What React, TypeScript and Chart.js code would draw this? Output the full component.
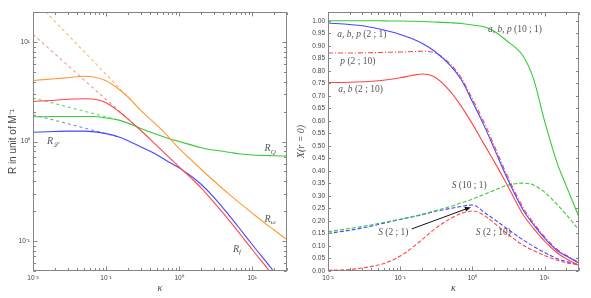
import React, { useEffect, useRef } from "react";
import { Chart, registerables } from "chart.js";
Chart.register(...registerables);

// ---------- shared κ grid ----------
const KAPPA = [0.01, 0.02, 0.03, 0.05, 0.07, 0.1, 0.15, 0.2, 0.3, 0.5, 0.7, 1, 1.5, 2, 3, 5, 7, 10, 15, 20, 30];

// ---------- left panel: R in unit of M^-1 ----------
const R_OMEGA = [4.1, 4.27, 4.37, 4.53, 4.42, 4.07, 3.35, 2.8, 2.04, 1.45, 1.13, 0.851, 0.641, 0.526, 0.401, 0.289, 0.236, 0.191, 0.151, 0.129, 0.103];
const R_RED = [2.53, 2.6, 2.66, 2.69, 2.66, 2.45, 2.0, 1.68, 1.29, 0.902, 0.713, 0.556, 0.422, 0.343, 0.245, 0.157, 0.115, 0.0822, 0.0569, 0.0437, 0.0302];
const R_Q = [1.77, 1.78, 1.78, 1.78, 1.78, 1.72, 1.64, 1.53, 1.35, 1.175, 1.08, 1.0, 0.92, 0.865, 0.82, 0.776, 0.75, 0.733, 0.724, 0.72, 0.713];
const R_BLUE = [1.24, 1.26, 1.27, 1.27, 1.25, 1.2, 1.11, 1.02, 0.881, 0.733, 0.631, 0.543, 0.442, 0.372, 0.275, 0.176, 0.129, 0.0923, 0.0638, 0.049, 0.0339];
const ASYM_KAPPA_LONG = [0.01, 0.3];
const ASYM_R_OMEGA = [27.2, 2.05];
const ASYM_R_RED = [11.9, 1.29];
const ASYM_KAPPA_SHORT = [0.01, 0.15];
const ASYM_R_Q = [2.73, 1.64];
const ASYM_R_BLUE = [1.86, 1.11];

// ---------- right panel: X(r = 0) ----------
const ABP_10_1 = [1.0, 1.0, 1.0, 1.0, 0.999, 0.999, 0.998, 0.997, 0.995, 0.992, 0.989, 0.983, 0.975, 0.958, 0.92, 0.86, 0.77, 0.6, 0.43, 0.34, 0.215];
const S_10_1 = [0.157, 0.17, 0.178, 0.19, 0.198, 0.207, 0.218, 0.226, 0.24, 0.258, 0.272, 0.287, 0.308, 0.322, 0.342, 0.351, 0.344, 0.315, 0.265, 0.225, 0.164];
const ABP_2_1 = [0.991, 0.985, 0.98, 0.968, 0.958, 0.945, 0.927, 0.91, 0.878, 0.82, 0.765, 0.677, 0.572, 0.49, 0.374, 0.246, 0.186, 0.131, 0.081, 0.06, 0.031];
const S_2_1 = [0.15, 0.163, 0.172, 0.186, 0.196, 0.206, 0.217, 0.225, 0.238, 0.25, 0.258, 0.264, 0.232, 0.207, 0.17, 0.125, 0.099, 0.074, 0.049, 0.038, 0.026];
const P_2_10 = [0.871, 0.871, 0.872, 0.873, 0.874, 0.875, 0.877, 0.878, 0.872, 0.826, 0.772, 0.688, 0.585, 0.502, 0.385, 0.255, 0.193, 0.137, 0.086, 0.063, 0.033];
const AB_2_10 = [0.753, 0.754, 0.756, 0.76, 0.765, 0.772, 0.782, 0.787, 0.775, 0.716, 0.659, 0.588, 0.5, 0.438, 0.347, 0.227, 0.171, 0.119, 0.072, 0.049, 0.022];
const S_2_10 = [0.003, 0.006, 0.012, 0.024, 0.038, 0.06, 0.095, 0.125, 0.168, 0.21, 0.23, 0.24, 0.22, 0.192, 0.15, 0.104, 0.082, 0.062, 0.043, 0.033, 0.024];

// ---------- tick labels ----------
const X_TICKS = [0.01, 0.1, 1, 10];
const X_TICK_LABELS = ["10⁻²", "10⁻¹", "10⁰", "10¹"];
const LY_TICKS = [0.1, 1, 10];
const LY_TICK_LABELS = ["10⁻¹", "10⁰", "10¹"];
const RY_TICKS = Array.from({ length: 21 }, (_, i) => Math.round(i * 5) / 100);

// ---------- annotations ----------
type Seg = { t: string; it?: boolean; sub?: boolean };
const LEFT_LABELS: { k: number; v: number; segs: Seg[] }[] = [
  { k: 0.0155, v: 1.0, segs: [{ t: "R", it: true }, { t: "ℒ", it: true, sub: true }] },
  { k: 14.8, v: 0.85, segs: [{ t: "R", it: true }, { t: "Q", it: true, sub: true }] },
  { k: 14.8, v: 0.166, segs: [{ t: "R", it: true }, { t: "ω", it: true, sub: true }] },
  { k: 5.46, v: 0.083, segs: [{ t: "R", it: true }, { t: "f", it: true, sub: true }] },
];
const RIGHT_LABELS: { k: number; v: number; segs: Seg[] }[] = [
  { k: 0.0134, v: 0.944, segs: [{ t: "a, b, p ", it: true }, { t: "(2 ; 1)" }] },
  { k: 0.0148, v: 0.837, segs: [{ t: "p ", it: true }, { t: "(2 ; 10)" }] },
  { k: 0.0139, v: 0.724, segs: [{ t: "a, b ", it: true }, { t: "(2 ; 10)" }] },
  { k: 1.64, v: 0.967, segs: [{ t: "a, b, p ", it: true }, { t: "(10 ; 1)" }] },
  { k: 0.516, v: 0.34, segs: [{ t: "S ", it: true }, { t: "(10 ; 1)" }] },
  { k: 0.0495, v: 0.153, segs: [{ t: "S ", it: true }, { t: "(2 ; 1)" }] },
  { k: 1.117, v: 0.153, segs: [{ t: "S ", it: true }, { t: "(2 ; 10)" }] },
];
const ARROW_FROM = [0.1445, 0.168];
const ARROW_TO = [0.953, 0.255];

// ---------- colours ----------
const ORANGE = "#ff9933";
const RED = "#ff4646";
const GREEN = "#36cc36";
const BLUE = "#4646ff";
const FRAME = "#858585";
const TEXT = "#444444";
const LABEL = "#555555";
const SANS = "'Liberation Sans', Arial, sans-serif";
const SERIF = "'Liberation Serif', 'DejaVu Serif', serif";

function pts(xs: number[], ys: number[]) {
  return xs.map((x, i) => ({ x, y: ys[i] }));
}

function logTicks(min: number, max: number) {
  const out: { v: number; major: boolean }[] = [];
  for (let e = Math.floor(Math.log10(min)); e <= Math.ceil(Math.log10(max)); e++) {
    for (let m = 1; m <= 9; m++) {
      const v = m * Math.pow(10, e);
      if (v >= min * 0.999 && v <= max * 1.001) out.push({ v, major: m === 1 });
    }
  }
  return out;
}

function drawRich(ctx: CanvasRenderingContext2D, x: number, y: number, segs: Seg[], size: number, color: string) {
  ctx.save();
  ctx.fillStyle = color;
  ctx.textBaseline = "middle";
  ctx.textAlign = "left";
  let cx = x;
  for (const s of segs) {
    const sz = s.sub ? size * 0.7 : size;
    ctx.font = `${s.it ? "italic " : ""}${sz}px ${SERIF}`;
    ctx.fillText(s.t, cx, y + (s.sub ? size * 0.32 : 0));
    cx += ctx.measureText(s.t).width;
  }
  ctx.restore();
}

function framePlugin(xt: { v: number; major: boolean }[], yt: { v: number; major: boolean }[]) {
  return {
    id: "frameTicks",
    afterDatasetsDraw(chart: any) {
      const { ctx, chartArea: a } = chart;
      const xs = chart.scales.x;
      const ys = chart.scales.y;
      const L = Math.round(a.left) + 0.5;
      const R = Math.round(a.right) - 0.5;
      const T = Math.round(a.top) + 0.5;
      const B = Math.round(a.bottom) - 0.5;
      ctx.save();
      ctx.strokeStyle = FRAME;
      ctx.lineWidth = 1;
      ctx.setLineDash([]);
      ctx.beginPath();
      for (const t of xt) {
        const p = Math.round(xs.getPixelForValue(t.v)) + 0.5;
        const len = t.major ? 4 : 2.5;
        ctx.moveTo(p, B);
        ctx.lineTo(p, B - len);
        ctx.moveTo(p, T);
        ctx.lineTo(p, T + len);
      }
      for (const t of yt) {
        const p = Math.round(ys.getPixelForValue(t.v)) + 0.5;
        const len = t.major ? 4 : 2.5;
        ctx.moveTo(L, p);
        ctx.lineTo(L + len, p);
        ctx.moveTo(R, p);
        ctx.lineTo(R - len, p);
      }
      ctx.stroke();
      ctx.strokeRect(L, T, R - L, B - T);
      ctx.restore();
    },
  };
}

function labelPlugin(labels: { k: number; v: number; segs: Seg[] }[], size: number, arrow?: number[][]) {
  return {
    id: "labels",
    afterDatasetsDraw(chart: any) {
      const { ctx } = chart;
      const xs = chart.scales.x;
      const ys = chart.scales.y;
      for (const l of labels) {
        drawRich(ctx, xs.getPixelForValue(l.k), ys.getPixelForValue(l.v), l.segs, size, LABEL);
      }
      if (arrow) {
        const x1 = xs.getPixelForValue(arrow[0][0]);
        const y1 = ys.getPixelForValue(arrow[0][1]);
        const x2 = xs.getPixelForValue(arrow[1][0]);
        const y2 = ys.getPixelForValue(arrow[1][1]);
        const ang = Math.atan2(y2 - y1, x2 - x1);
        const hl = 6;
        const hw = 2.5;
        ctx.save();
        ctx.setLineDash([]);
        ctx.strokeStyle = "#111";
        ctx.fillStyle = "#111";
        ctx.lineWidth = 1;
        ctx.beginPath();
        ctx.moveTo(x1, y1);
        ctx.lineTo(x2 - hl * Math.cos(ang), y2 - hl * Math.sin(ang));
        ctx.stroke();
        ctx.beginPath();
        ctx.moveTo(x2, y2);
        ctx.lineTo(x2 - hl * Math.cos(ang) + hw * Math.sin(ang), y2 - hl * Math.sin(ang) - hw * Math.cos(ang));
        ctx.lineTo(x2 - hl * Math.cos(ang) - hw * Math.sin(ang), y2 - hl * Math.sin(ang) + hw * Math.cos(ang));
        ctx.closePath();
        ctx.fill();
        ctx.restore();
      }
    },
  };
}

function line(data: { x: number; y: number }[], color: string, dash: number[] = [], smooth = true) {
  return {
    data,
    borderColor: color,
    backgroundColor: color,
    borderWidth: 1.1,
    borderDash: dash,
    pointRadius: 0,
    fill: false,
    cubicInterpolationMode: smooth ? "monotone" : "default",
    tension: 0,
  };
}

const tickFont = { family: SANS, size: 6.5 };

function xScale() {
  return {
    type: "logarithmic",
    min: 0.01,
    max: 30,
    position: "bottom",
    afterBuildTicks: (s: any) => {
      s.ticks = X_TICKS.map((v) => ({ value: v }));
    },
    afterFit: (s: any) => {
      s.height = 27;
    },
    ticks: {
      autoSkip: false,
      maxRotation: 0,
      padding: 3,
      font: tickFont,
      color: TEXT,
      callback: (v: number) => {
        const i = X_TICKS.findIndex((t) => Math.abs(t - v) / t < 1e-6);
        return i >= 0 ? X_TICK_LABELS[i] : "";
      },
    },
    grid: { display: false, drawTicks: false },
    border: { display: false },
    title: {
      display: true,
      text: "κ",
      font: { family: SERIF, size: 10, style: "italic" },
      color: TEXT,
      padding: { top: 0, bottom: 4 },
    },
  };
}

function leftConfig(): any {
  return {
    type: "line",
    data: {
      datasets: [
        line(pts(KAPPA, R_OMEGA), ORANGE),
        line(pts(KAPPA, R_RED), RED),
        line(pts(KAPPA, R_Q), GREEN),
        line(pts(KAPPA, R_BLUE), BLUE),
        line(pts(ASYM_KAPPA_LONG, ASYM_R_OMEGA), "rgba(255,153,51,0.75)", [3, 3], false),
        line(pts(ASYM_KAPPA_LONG, ASYM_R_RED), "rgba(255,70,70,0.6)", [3, 3], false),
        line(pts(ASYM_KAPPA_SHORT, ASYM_R_Q), "rgba(54,204,54,0.8)", [3, 3], false),
        line(pts(ASYM_KAPPA_SHORT, ASYM_R_BLUE), "rgba(70,70,255,0.7)", [3, 3], false),
      ],
    },
    options: {
      animation: false,
      responsive: false,
      maintainAspectRatio: false,
      layout: { padding: { left: 0, right: 8, top: 12, bottom: 0 } },
      plugins: { legend: { display: false }, tooltip: { enabled: false } },
      scales: {
        x: xScale(),
        y: {
          type: "logarithmic",
          min: 0.05,
          max: 20,
          afterBuildTicks: (s: any) => {
            s.ticks = LY_TICKS.map((v) => ({ value: v }));
          },
          afterFit: (s: any) => {
            s.width = 33;
          },
          ticks: {
            autoSkip: false,
            padding: 3,
            font: tickFont,
            color: TEXT,
            callback: (v: number) => {
              const i = LY_TICKS.findIndex((t) => Math.abs(t - v) / t < 1e-6);
              return i >= 0 ? LY_TICK_LABELS[i] : "";
            },
          },
          grid: { display: false, drawTicks: false },
          border: { display: false },
          title: {
            display: true,
            text: "R in unit of M⁻¹",
            font: { family: SANS, size: 10 },
            color: TEXT,
            padding: { top: 7, bottom: 0 },
          },
        },
      },
    },
    plugins: [framePlugin(logTicks(0.01, 30), logTicks(0.05, 20)), labelPlugin(LEFT_LABELS, 10)],
  };
}

function rightConfig(): any {
  return {
    type: "line",
    data: {
      datasets: [
        line(pts(KAPPA, ABP_10_1), GREEN),
        line(pts(KAPPA, ABP_2_1), BLUE),
        line(pts(KAPPA, AB_2_10), RED),
        line(pts(KAPPA, P_2_10), RED, [5, 2, 1, 2]),
        line(pts(KAPPA, S_10_1), GREEN, [4, 2]),
        line(pts(KAPPA, S_2_1), BLUE, [4, 2]),
        line(pts(KAPPA, S_2_10), RED, [4, 2]),
      ],
    },
    options: {
      animation: false,
      responsive: false,
      maintainAspectRatio: false,
      layout: { padding: { left: 0, right: 12, top: 12, bottom: 0 } },
      plugins: { legend: { display: false }, tooltip: { enabled: false } },
      scales: {
        x: xScale(),
        y: {
          type: "linear",
          min: 0,
          max: 1.035,
          afterBuildTicks: (s: any) => {
            s.ticks = RY_TICKS.map((v) => ({ value: v }));
          },
          afterFit: (s: any) => {
            s.width = 33;
          },
          ticks: {
            autoSkip: false,
            padding: 3,
            font: tickFont,
            color: TEXT,
            callback: (v: number) => Number(v).toFixed(2),
          },
          grid: { display: false, drawTicks: false },
          border: { display: false },
          title: {
            display: true,
            text: "X(r = 0)",
            font: { family: SERIF, size: 10, style: "italic" },
            color: TEXT,
            padding: { top: 0, bottom: 0 },
          },
        },
      },
    },
    plugins: [
      framePlugin(logTicks(0.01, 30), RY_TICKS.map((v) => ({ v, major: false }))),
      labelPlugin(RIGHT_LABELS, 9.5, [ARROW_FROM, ARROW_TO]),
    ],
  };
}

function ChartCanvas({ make, left, width }: { make: () => any; left: number; width: number }) {
  const ref = useRef<HTMLCanvasElement>(null);
  useEffect(() => {
    const c = new Chart(ref.current as HTMLCanvasElement, make());
    return () => c.destroy();
  }, []);
  return (
    <canvas
      ref={ref}
      width={width}
      height={298}
      style={{ position: "absolute", left, top: 0, width, height: 298, display: "block" }}
    />
  );
}

export default function App() {
  useEffect(() => {
    document.body.style.margin = "0";
    document.body.style.background = "#ffffff";
  }, []);
  return (
    <div style={{ position: "fixed", left: 0, top: 0, width: 591, height: 298, background: "#fff", overflow: "hidden" }}>
      <ChartCanvas make={leftConfig} left={0} width={295} />
      <ChartCanvas make={rightConfig} left={295} width={296} />
    </div>
  );
}
